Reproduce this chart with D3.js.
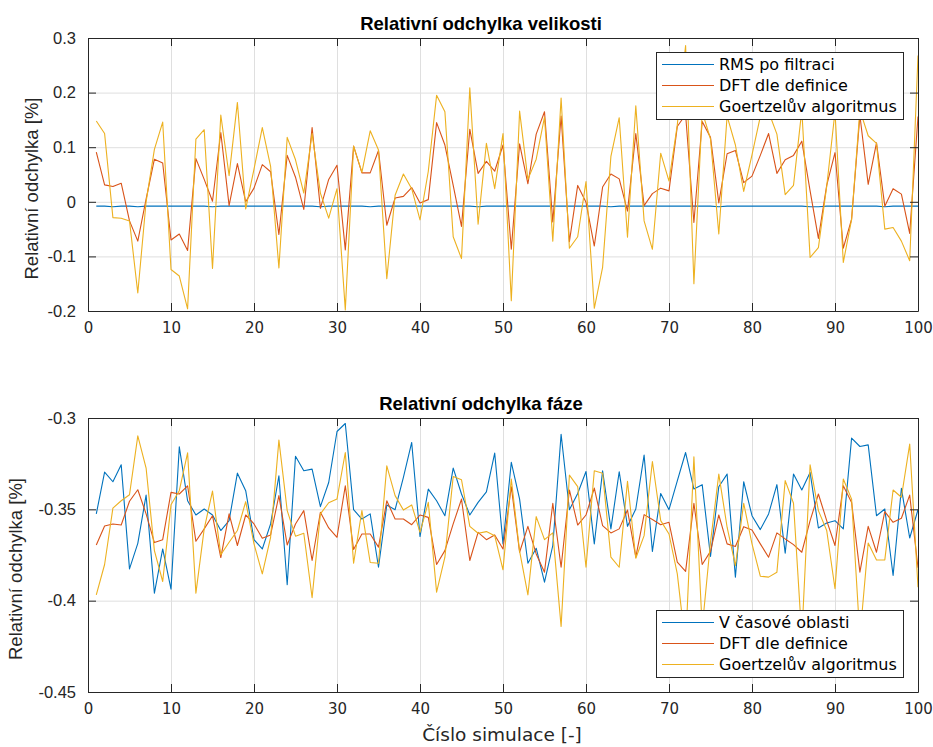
<!DOCTYPE html>
<html>
<head>
<meta charset="utf-8">
<script src="https://cdn.jsdelivr.net/npm/d3@7"></script>
<style>
	html, body { margin: 0; padding: 0; background: #fff; }
	svg { display: block; }
	.ytk text { font-family: "Liberation Sans", Arial, sans-serif; font-size: 16.5px; fill: #262626; }
	.xtk text { font-family: "DejaVu Sans", sans-serif; font-size: 15px; fill: #262626; }
	.leg text { font-family: "DejaVu Sans", sans-serif; font-size: 16px; fill: #000; }
</style>
</head>
<body>
<svg class="viz" width="933" height="747"></svg>
<script>
// *** Data ***
const simNo = d3.range(1, 101);

const magRms = [
	-0.008, -0.008, -0.009, -0.008, -0.008, -0.009, -0.008, -0.008, -0.008, -0.008,
	-0.008, -0.008, -0.008, -0.008, -0.009, -0.008, -0.008, -0.008, -0.008, -0.008,
	-0.008, -0.008, -0.008, -0.008, -0.008, -0.008, -0.008, -0.009, -0.008, -0.008,
	-0.008, -0.008, -0.008, -0.009, -0.008, -0.008, -0.008, -0.008, -0.008, -0.008,
	-0.008, -0.008, -0.008, -0.008, -0.008, -0.008, -0.009, -0.008, -0.008, -0.008,
	-0.008, -0.008, -0.008, -0.008, -0.008, -0.008, -0.008, -0.008, -0.008, -0.008,
	-0.008, -0.008, -0.009, -0.008, -0.008, -0.008, -0.008, -0.008, -0.008, -0.008,
	-0.008, -0.008, -0.008, -0.008, -0.008, -0.009, -0.008, -0.008, -0.008, -0.008,
	-0.008, -0.008, -0.008, -0.008, -0.008, -0.008, -0.009, -0.009, -0.008, -0.008,
	-0.008, -0.008, -0.008, -0.008, -0.008, -0.009, -0.008, -0.008, -0.008, -0.008
];
const magDft = [
	0.091, 0.031, 0.028, 0.034, -0.035, -0.072, 0.005, 0.078, 0.071, -0.070,
	-0.059, -0.089, 0.079, 0.041, 0.001, 0.127, -0.007, 0.070, 0.000, 0.025,
	0.068, 0.055, -0.060, 0.085, 0.045, -0.014, 0.136, -0.012, 0.041, 0.067,
	-0.088, 0.102, 0.053, 0.053, 0.094, -0.043, 0.007, 0.010, 0.026, -0.002,
	0.004, 0.145, 0.104, 0.030, -0.045, 0.133, 0.052, 0.074, 0.056, 0.104,
	-0.087, 0.106, 0.033, 0.124, 0.165, -0.037, 0.157, -0.073, 0.030, -0.001,
	-0.081, 0.027, 0.051, 0.042, -0.017, 0.125, -0.007, 0.015, 0.025, 0.020,
	0.138, 0.160, -0.038, 0.147, 0.118, -0.002, 0.088, 0.094, 0.035, 0.047,
	0.085, 0.125, 0.052, 0.077, 0.085, 0.111, 0.020, -0.067, 0.030, 0.090,
	-0.085, -0.032, 0.158, 0.032, 0.108, -0.008, 0.024, 0.014, -0.058, 0.156
];
const magGoertzel = [
	0.148, 0.125, -0.029, -0.030, -0.035, -0.167, 0.000, 0.096, 0.146, -0.124,
	-0.136, -0.196, 0.115, 0.132, -0.122, 0.159, 0.048, 0.182, -0.013, 0.060,
	0.136, 0.065, -0.121, 0.118, 0.077, 0.016, 0.125, 0.016, -0.030, 0.024,
	-0.198, 0.102, 0.054, 0.130, 0.095, -0.141, 0.012, 0.051, 0.024, -0.033,
	0.056, 0.195, 0.165, -0.064, -0.104, 0.209, -0.041, 0.107, 0.024, 0.125,
	-0.181, 0.166, 0.041, 0.078, 0.155, -0.072, 0.190, -0.085, -0.064, 0.037,
	-0.195, -0.120, 0.083, 0.154, -0.065, 0.176, -0.035, -0.087, 0.089, 0.038,
	0.141, 0.286, -0.150, 0.165, 0.115, -0.059, 0.157, 0.104, 0.019, 0.086,
	0.156, 0.165, 0.124, 0.013, 0.030, 0.168, -0.102, -0.084, 0.028, 0.165,
	-0.111, -0.032, 0.168, 0.121, 0.107, -0.050, -0.047, -0.072, -0.108, 0.268
];

const phTime = [
	-0.3525, -0.3296, -0.3349, -0.3256, -0.3826, -0.3686, -0.3422, -0.3959, -0.3717, -0.3937,
	-0.3158, -0.3453, -0.3531, -0.3498, -0.3531, -0.3616, -0.3562, -0.3302, -0.3398, -0.3666,
	-0.3717, -0.3580, -0.3316, -0.3913, -0.3209, -0.3289, -0.3280, -0.3485, -0.3353, -0.3074,
	-0.3030, -0.3502, -0.3553, -0.3525, -0.3817, -0.3476, -0.3502, -0.3325, -0.3134, -0.3649,
	-0.3389, -0.3453, -0.3535, -0.3274, -0.3416, -0.3531, -0.3462, -0.3404, -0.3192, -0.3689,
	-0.3243, -0.3444, -0.3795, -0.3713, -0.3899, -0.3698, -0.3089, -0.3502, -0.3413, -0.3293,
	-0.3689, -0.3289, -0.3607, -0.3294, -0.3593, -0.3498, -0.3203, -0.3731, -0.3413, -0.3502,
	-0.3344, -0.3189, -0.3389, -0.3365, -0.3758, -0.3376, -0.3307, -0.3871, -0.3349, -0.3535,
	-0.3611, -0.3525, -0.3365, -0.3740, -0.3307, -0.3394, -0.3298, -0.3602, -0.3575, -0.3562,
	-0.3607, -0.3110, -0.3156, -0.3147, -0.3535, -0.3498, -0.3862, -0.3385, -0.3657, -0.3502
];
const phDft = [
	-0.3695, -0.3591, -0.3580, -0.3586, -0.3456, -0.3393, -0.3525, -0.3682, -0.3666, -0.3407,
	-0.3416, -0.3371, -0.3675, -0.3607, -0.3535, -0.3764, -0.3525, -0.3698, -0.3531, -0.3580,
	-0.3658, -0.3640, -0.3425, -0.3695, -0.3580, -0.3507, -0.3780, -0.3516, -0.3602, -0.3653,
	-0.3371, -0.3720, -0.3635, -0.3635, -0.3707, -0.3453, -0.3553, -0.3553, -0.3584, -0.3531,
	-0.3544, -0.3802, -0.3726, -0.3580, -0.3444, -0.3780, -0.3626, -0.3666, -0.3640, -0.3717,
	-0.3376, -0.3735, -0.3593, -0.3744, -0.3844, -0.3467, -0.3817, -0.3394, -0.3586, -0.3531,
	-0.3384, -0.3589, -0.3629, -0.3607, -0.3504, -0.3762, -0.3529, -0.3556, -0.3584, -0.3571,
	-0.3789, -0.3840, -0.3467, -0.3802, -0.3730, -0.3531, -0.3689, -0.3703, -0.3595, -0.3613,
	-0.3689, -0.3762, -0.3629, -0.3662, -0.3693, -0.3735, -0.3562, -0.3416, -0.3562, -0.3698,
	-0.3371, -0.3462, -0.3844, -0.3593, -0.3735, -0.3513, -0.3571, -0.3549, -0.3422, -0.3820
];
const phGoertzel = [
	-0.3968, -0.3802, -0.3493, -0.3453, -0.3420, -0.3098, -0.3274, -0.3726, -0.3895, -0.3475,
	-0.3398, -0.3191, -0.3959, -0.3607, -0.3400, -0.3749, -0.3680, -0.3616, -0.3458, -0.3689,
	-0.3853, -0.3653, -0.3121, -0.3507, -0.3647, -0.3631, -0.3984, -0.3525, -0.3464, -0.3444,
	-0.3189, -0.3795, -0.3507, -0.3791, -0.3795, -0.3262, -0.3425, -0.3504, -0.3476, -0.3626,
	-0.3462, -0.3953, -0.3762, -0.3320, -0.3338, -0.3593, -0.3631, -0.3622, -0.3644, -0.3831,
	-0.3334, -0.3729, -0.3968, -0.3540, -0.3666, -0.3629, -0.4141, -0.3313, -0.3376, -0.3817,
	-0.3289, -0.3302, -0.3762, -0.3817, -0.3347, -0.3768, -0.3644, -0.3238, -0.3562, -0.3635,
	-0.3853, -0.4250, -0.3212, -0.4150, -0.3680, -0.3307, -0.3598, -0.3808, -0.3467, -0.3689,
	-0.3866, -0.3871, -0.3844, -0.3343, -0.3467, -0.4200, -0.3256, -0.3507, -0.3616, -0.3935,
	-0.3334, -0.3444, -0.4200, -0.3684, -0.3777, -0.3777, -0.3394, -0.3434, -0.3143, -0.3926
];

const xTicks = d3.range(0, 101, 10);
const magTicks = [-0.2, -0.1, 0, 0.1, 0.2, 0.3];
const phTicks = [-0.45, -0.4, -0.35, -0.3];

const magNames = ["RMS po filtraci", "DFT dle definice", "Goertzelův algoritmus"];
const phNames = ["V časové oblasti", "DFT dle definice", "Goertzelův algoritmus"];
const colors = ["#0072BD", "#D95319", "#EDB120"];

// *** Rendering ***
const svg = d3.select(".viz");
const left = 88, right = 918;
const axCol = "#262626";

function panel(o) {
	let x = d3.scaleLinear().domain([0, 100]).range([left, right]);
	let y = d3.scaleLinear().domain(o.ydom).range([o.bottom, o.top]);
	let g = svg.append("g");
	let id = "clip" + o.top;

	g.append("clipPath").attr("id", id).append("rect")
		.attr("x", left).attr("y", o.top)
		.attr("width", right - left).attr("height", o.bottom - o.top);

	// grid
	g.append("g")
		.attr("transform", "translate(0," + o.bottom + ")")
		.call(d3.axisBottom(x).tickValues(xTicks).tickSize(-(o.bottom - o.top)).tickFormat(""))
		.call(s => s.select(".domain").remove())
		.selectAll("line").attr("stroke", "#dfdfdf");
	g.append("g")
		.attr("transform", "translate(" + left + ",0)")
		.call(d3.axisLeft(y).tickValues(o.ticks).tickSize(-(right - left)).tickFormat(""))
		.call(s => s.select(".domain").remove())
		.selectAll("line").attr("stroke", "#dfdfdf");

	// lines
	let line = d3.line().x((d, i) => x(simNo[i])).y(d => y(d));
	o.series.forEach((s, k) => {
		g.append("path")
			.attr("clip-path", "url(#" + id + ")")
			.attr("fill", "none")
			.attr("stroke", colors[k])
			.attr("stroke-width", 1.1)
			.attr("stroke-linejoin", "round")
			.attr("d", line(s));
	});

	// axes with inward ticks on all four sides
	let xb = g.append("g").attr("class", "xtk")
		.attr("transform", "translate(0," + o.bottom + ")")
		.call(d3.axisBottom(x).tickValues(xTicks).tickSizeInner(-8).tickSizeOuter(0).tickPadding(11));
	let xt = g.append("g")
		.attr("transform", "translate(0," + o.top + ")")
		.call(d3.axisTop(x).tickValues(xTicks).tickSizeInner(-8).tickSizeOuter(0).tickFormat(""));
	let yl = g.append("g").attr("class", "ytk")
		.attr("transform", "translate(" + left + ",0)")
		.call(d3.axisLeft(y).tickValues(o.ticks).tickSizeInner(-8).tickSizeOuter(0).tickPadding(12)
			.tickFormat(d => String(d)));
	let yr = g.append("g")
		.attr("transform", "translate(" + right + ",0)")
		.call(d3.axisRight(y).tickValues(o.ticks).tickSizeInner(-8).tickSizeOuter(0).tickFormat(""));
	[xb, xt, yl, yr].forEach(a => {
		a.selectAll("line").attr("stroke", axCol);
		a.select(".domain").attr("stroke", axCol).attr("stroke-width", 1);
	});
	yl.selectAll("text").attr("fill", axCol);
	xb.selectAll("text").attr("fill", axCol);

	// title and y label
	svg.append("text")
		.attr("x", 481).attr("y", o.top - 8)
		.attr("text-anchor", "middle")
		.style("font-family", "'Liberation Sans', Arial, sans-serif")
		.style("font-weight", "bold").style("font-size", "18.5px")
		.text(o.title);
	svg.append("text")
		.attr("transform", "translate(" + o.ylx + "," + ((o.top + o.bottom) / 2 + 14) + ") rotate(-90)")
		.attr("text-anchor", "middle")
		.style("font-family", "'Liberation Sans', Arial, sans-serif")
		.style("font-size", "18.5px").attr("fill", axCol)
		.text("Relativní odchylka [%]");

	// legend
	let lg = svg.append("g").attr("class", "leg");
	lg.append("rect")
		.attr("x", 656.5).attr("y", o.legTop + 0.5)
		.attr("width", 247).attr("height", 67)
		.attr("fill", "#fff").attr("stroke", axCol).attr("stroke-width", 1);
	o.names.forEach((n, k) => {
		let yy = o.legTop + 12.5 + k * 21;
		lg.append("line")
			.attr("x1", 662).attr("x2", 714).attr("y1", yy).attr("y2", yy)
			.attr("stroke", colors[k]).attr("stroke-width", 1.1);
		lg.append("text").attr("x", 719).attr("y", yy).attr("dy", "0.36em").text(n);
	});
}

panel({ top: 38, bottom: 311, ydom: [-0.2, 0.3], ticks: magTicks,
	series: [magRms, magDft, magGoertzel], names: magNames, legTop: 52, ylx: 38,
	title: "Relativní odchylka velikosti" });
panel({ top: 418, bottom: 692, ydom: [-0.45, -0.3], ticks: phTicks,
	series: [phTime, phDft, phGoertzel], names: phNames, legTop: 610, ylx: 22,
	title: "Relativní odchylka fáze" });

svg.append("text")
	.attr("x", 502).attr("y", 741)
	.attr("text-anchor", "middle")
	.style("font-family", "'DejaVu Sans', sans-serif")
	.style("font-size", "18.5px").attr("fill", axCol)
	.text("Číslo simulace [-]");
</script>
</body>
</html>
